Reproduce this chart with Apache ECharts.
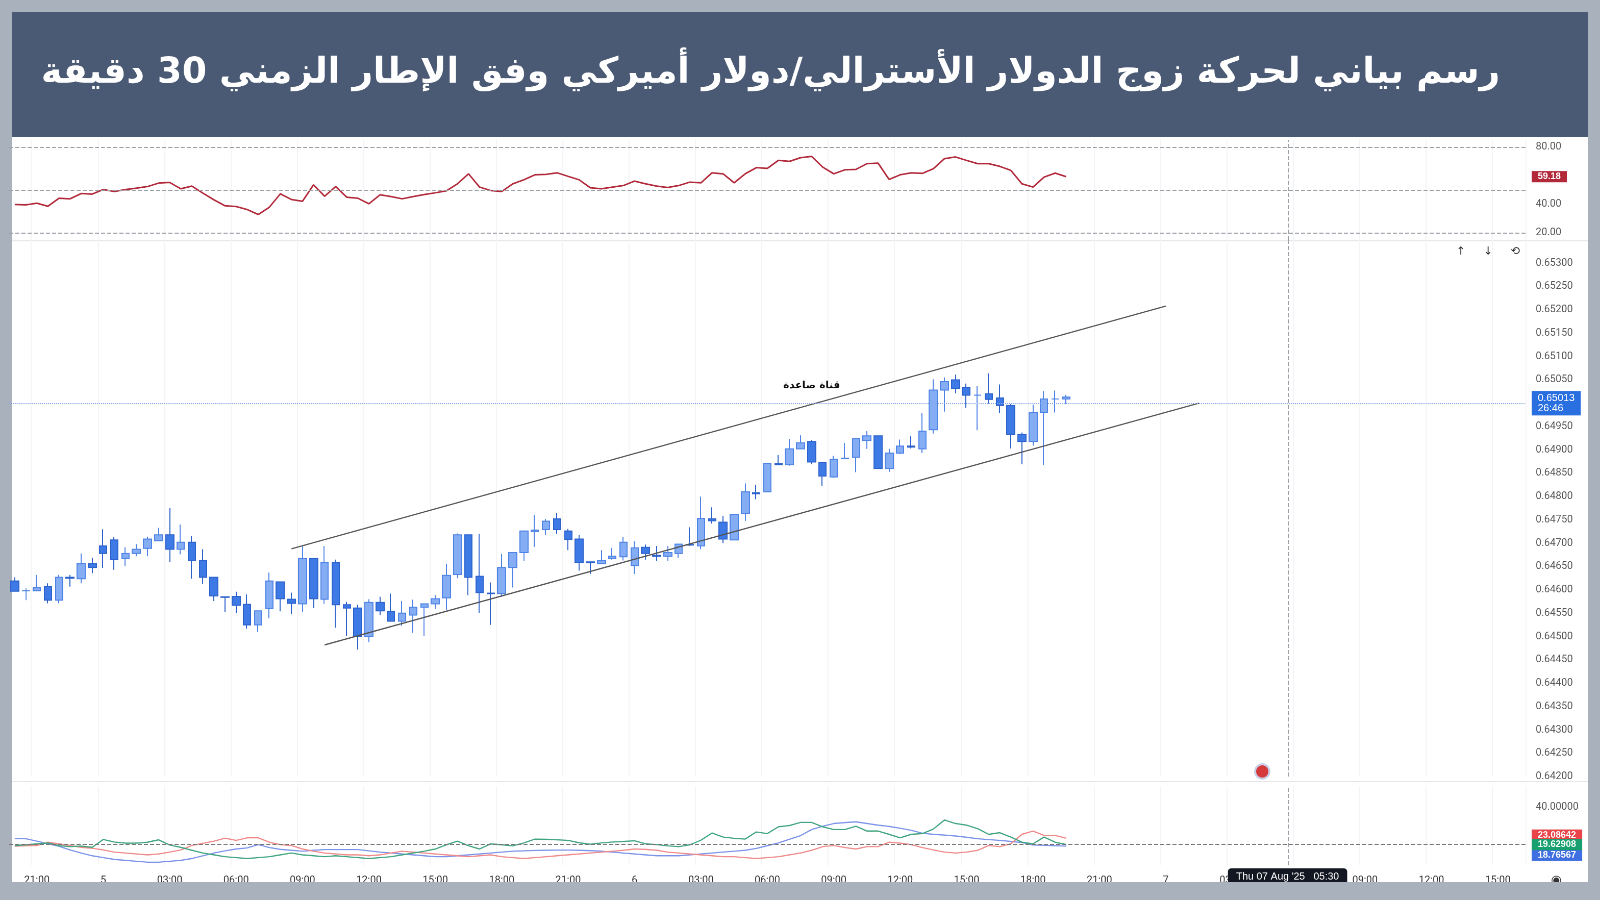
<!DOCTYPE html>
<html><head><meta charset="utf-8">
<script src="https://cdn.jsdelivr.net/npm/echarts@6/dist/echarts.min.js"></script>
<style>html,body{margin:0;padding:0;background:#a9b1bc;overflow:hidden}#c{width:1568px;height:882px;transform:scale(1.020408);transform-origin:0 0}</style>
</head><body><div id="c"></div>
<script>
const titleText = 'رسم بياني لحركة زوج الدولار الأسترالي/دولار أميركي وفق الإطار الزمني 30 دقيقة';
const channelLabel = 'قناة صاعدة';
const opens  = [.64619,.64598,.64598,.64607,.64578,.64627,.64624,.64656,.64694,.64707,.64667,.64678,.64689,.64705,.64718,.64687,.64702,.64663,.64627,.64585,.64586,.64569,.64525,.6456,.64617,.6458,.6457,.64667,.6458,.64658,.64568,.64561,.645,.64573,.64554,.64533,.64546,.64563,.6457,.64583,.64633,.64718,.64629,.64593,.64592,.64648,.6468,.64725,.64729,.64752,.64726,.64709,.6466,.64656,.64667,.64671,.64652,.64691,.64674,.64672,.64678,.64697,.64694,.64752,.64745,.64707,.64764,.64808,.6481,.6487,.64868,.64902,.64918,.64873,.64842,.64881,.64884,.6492,.6493,.6486,.64893,.64908,.64902,.64943,.65028,.6505,.65033,.65017,.6502,.65011,.64995,.64933,.64918,.6498,.65009,.65009];
const closes = [.64597,.64598,.64605,.64578,.64627,.64625,.64656,.64648,.64678,.64665,.64678,.64687,.64709,.64718,.64687,.64702,.64663,.64627,.64587,.64584,.64567,.64525,.64555,.64619,.64581,.64571,.64667,.64581,.64659,.64568,.64561,.645,.64573,.64555,.64533,.6455,.64563,.6457,.64581,.64631,.64718,.64627,.64594,.64592,.64648,.6468,.64726,.64728,.64747,.64729,.64708,.64659,.64658,.64663,.64672,.64702,.6469,.64678,.64672,.6468,.64698,.64696,.64753,.64748,.64709,.64762,.6481,.64806,.64871,.64868,.64902,.64915,.64874,.64844,.6488,.64882,.64924,.6493,.6486,.64893,.64908,.64906,.6494,.65028,.65046,.65032,.65017,.65017,.65008,.64995,.64933,.64918,.6498,.65009,.65009,.65013];
const lows   = [.64596,.64578,.64598,.64571,.64571,.64607,.64614,.64636,.64647,.64643,.64651,.64672,.64672,.64704,.6466,.64676,.64624,.64613,.64576,.64552,.64551,.64517,.6451,.64539,.64554,.64548,.64552,.64561,.6457,.64519,.64501,.64472,.64488,.64546,.64533,.64523,.64508,.64501,.64559,.64556,.64625,.64589,.64551,.64525,.64585,.64605,.64662,.64692,.64718,.6472,.64685,.64641,.64634,.64656,.64665,.64663,.64634,.64665,.64662,.64662,.64669,.64694,.64687,.64742,.647,.64707,.64748,.64794,.6481,.64867,.64866,.64902,.64869,.64823,.6484,.6488,.64852,.64902,.64859,.64853,.64891,.64903,.64893,.64935,.64982,.65021,.6499,.64942,.64999,.64979,.64903,.64869,.64909,.64867,.6498,.64998];
const highs  = [.64627,.64603,.64632,.64614,.64632,.64632,.64678,.64669,.6473,.64713,.64691,.64698,.64714,.64733,.64775,.6474,.64716,.64687,.64627,.64586,.64596,.6459,.64556,.64637,.64618,.64594,.64694,.64668,.64694,.64665,.64574,.64568,.6458,.64585,.64592,.64576,.64579,.64571,.64589,.64656,.64721,.64719,.6472,.64616,.64677,.64681,.64727,.6476,.64752,.64765,.64731,.64718,.64661,.64685,.6469,.64713,.64704,.64697,.64694,.64694,.64699,.64734,.648,.64777,.64758,.64763,.64828,.64825,.64872,.64889,.64923,.64931,.64921,.64874,.64887,.64915,.64925,.6494,.64931,.64902,.64922,.6493,.64979,.65051,.65055,.65061,.65042,.65037,.65064,.6504,.64998,.64937,.64997,.65026,.65027,.65018];
const rsiValues = [39.7,39.5,40.6,38.5,44.1,43.7,47.4,47,50.2,48.8,50.2,51.2,52.3,54.7,55.2,50.7,52.6,47.7,43,38.8,38.3,36.2,32.7,37.8,47.2,43.2,42,53.5,45.5,52.3,44.8,44.1,40.2,46.5,45.3,43.7,45.3,46.7,47.9,49.3,54.2,61.2,51.9,49.5,48.8,54.2,57,60.5,
 60.8,61.9,59.4,57,51.4,50.7,51.9,53,56.1,54.2,52.6,51.6,53,55.4,54.9,61.9,61.2,54.9,61.2,65.5,65,70.6,69.9,72.5,73.4,65.9,61.2,64,64.3,68.3,68.7,57.3,60.5,61.9,61.5,64.8,71.8,73,70.6,68.3,68.3,66.4,63.6,54.2,51.9,58.9,61.7,59.18];
const plusDI = [19,19.5,20,20.5,19,18.5,18.8,18.1,22.4,21,20.4,20.4,20.9,22.2,19.4,18.1,16.5,15,14,13,12.5,12,12.5,13,14,15,14,13.5,13,13.5,13,12.5,12,12.5,13,14,15,16,17.2,19.5,21.5,19,17.2,20,19.5,18.9,20.5,22.6,22.5,22.2,21.9,20.6,19.8,20.5,21,21.3,21.7,20,19.6,18.9,18.5,19.5,22,25.9,23.7,23,22.6,26.5,25.6,29.3,30,31.7,31.7,29.3,27.8,27.8,29.6,27,27,25.2,23.3,25.2,25.6,28.1,33,31.1,30.2,28.3,25.2,26.1,23.7,20.9,20,23.7,20.9,19.62908];
const minusDI = [18.7,19,19.1,20.9,20,19.1,18.1,17.6,16.7,15.5,15,14.5,14,14.5,15.5,16.7,19.1,20.3,21.5,23.1,21.9,23.3,23.3,20.9,19.6,19.1,17.2,16,15,14.5,14,14,13.5,14,15,16,15.5,15,14.5,14,13.5,13,13.5,14,13,12.5,12,12.5,13,13.5,14,14.5,15,15.5,16,16.5,17.2,17,16.5,15.5,15,14.5,14,13.5,13,13,12.5,12,12.5,13,14,15,16.5,18.5,19.1,18,17.2,18.5,18.5,20.9,20.4,19.6,18,16.7,15.5,15,15.5,16.5,19.1,18.5,20,25.2,27,24.6,24.6,23.08642];
const adxValues = [22.8,22.8,21.5,20,18.7,16.7,15,13.5,12.5,11.5,11,10.5,10,10,10.5,11,12,13.5,15,16.2,17.2,17.8,19.6,18,17,16.5,16,16.5,16.9,16.9,16.9,16.9,16.2,15.5,15,14.5,14,13.5,13,13,13.5,14,14.5,15,15.5,16,16.2,16.4,16.5,16.6,16.6,16.5,16.3,16,15.5,15,14.5,14,13.5,13.5,13.5,14,14.5,15,15.5,16,16.5,17.5,19,20.5,22.5,24.5,27.8,29.6,31.1,31.6,32,31.1,30.2,29.5,28.5,27.4,25.8,25.2,24.8,24.3,23.6,22.8,22.3,21.9,21.3,20.7,19.4,19.2,19,18.76567];
const channelUpper = [[25,0.64688],[104,0.65208]];
const channelLower = [[28,0.64482],[107,0.65000]];
const currentPrice = 0.65013, crossPrice = 0.64372, crossIndex = 115;

const categories = [];
const t0 = Date.UTC(2025,7,4,20,0);
for (let i=0;i<137;i++){ const d=new Date(t0+i*1800000); categories.push({d:d.getUTCDate(),h:d.getUTCHours(),m:d.getUTCMinutes()}); }
const catNames = categories.map(c=>c.d+'|'+String(c.h).padStart(2,'0')+':'+String(c.m).padStart(2,'0'));
function fmtCat(v){ const [d,t]=v.split('|'); return t==='00:00'?d:t; }

const candleData = opens.map((o,i)=>[o,closes[i],lows[i],highs[i]]);
const idx = a=>a.map((v,i)=>[i,v]);

const chart = echarts.init(document.getElementById('c'),null,{devicePixelRatio:2});
const L=9, R=73;
const hidden = {color:'rgba(0,0,0,0)',width:0};
const xBase = {type:'category',data:catNames,boundaryGap:true,axisLine:{show:false},axisTick:{show:false},axisLabel:{show:false},
  splitLine:{show:true,interval:i=>i%6===2,lineStyle:{color:'#f4f4f6'}}};
const yLab = {color:'#555',fontSize:10,fontFamily:'Roboto',margin:10};
function tag(val,txt,bg,extra){ return Object.assign({yAxis:val,lineStyle:hidden,label:{show:true,position:'end',formatter:txt,backgroundColor:bg,color:'#fff',fontSize:9,fontWeight:'bold',padding:[1,6],distance:6}},extra||{}); }
chart.setOption({
  animation:false,
  backgroundColor:'#a9b1bc',
  graphic:[
    {type:'rect',z:-10,shape:{x:12,y:12,width:1544,height:122},style:{fill:'#4b5a74'}},
    {type:'rect',z:-10,shape:{x:12,y:134,width:1544,height:736},style:{fill:'#ffffff'}},
    {type:'text',x:1470,y:72,style:{text:titleText,fill:'#ffffff',align:'right',verticalAlign:'middle',font:'bold 35px "DejaVu Sans", "Noto Sans", sans-serif'}},
    {type:'line',shape:{x1:12,y1:236,x2:1556,y2:236},style:{stroke:'#e6e6e6'}},
    {type:'line',shape:{x1:12,y1:766,x2:1556,y2:766},style:{stroke:'#e6e6e6'}},
    {type:'text',x:1427,y:241,style:{text:'↑     ↓     ⟲',fill:'#333',font:'11px "DejaVu Sans"'}},
    {type:'circle',shape:{cx:1237,cy:756,r:7},style:{fill:'#d43a3a',stroke:'#c8d0e8',lineWidth:2}},
    {type:'text',x:1520,y:857,style:{text:'◉',fill:'#333',font:'12px "DejaVu Sans"'}}
  ],
  grid:[
    {left:L,right:R,top:137,height:98},
    {left:L,right:R,top:235,height:526},
    {left:L,right:R,top:770,height:78}
  ],
  xAxis:[
    Object.assign({gridIndex:0},xBase),
    Object.assign({gridIndex:1},xBase),
    Object.assign({},xBase,{gridIndex:2,axisLabel:{show:true,interval:i=>i%6===2,formatter:fmtCat,color:'#333',fontSize:10,fontFamily:'Roboto',margin:10},
      axisPointer:{show:true,value:crossIndex,status:'show',type:'line',lineStyle:{type:'dashed',color:'#9aa0a6'},
        label:{show:true,formatter:()=>"Thu 07 Aug '25   05:30",backgroundColor:'#131722',color:'#fff',fontSize:10,padding:[3,8]}}})
  ],
  yAxis:[
    {gridIndex:0,position:'right',min:15,max:85,splitLine:{show:false},axisLine:{show:false},axisTick:{show:false},
      axisLabel:Object.assign({customValues:[20,40,80],formatter:v=>v.toFixed(2)},yLab)},
    {gridIndex:1,position:'right',min:0.642,max:0.6535,interval:0.0005,scale:true,splitLine:{show:false},axisLine:{show:false},axisTick:{show:false},
      axisLabel:Object.assign({showMaxLabel:false,formatter:v=>v.toFixed(5)},yLab)},
    {gridIndex:2,position:'right',min:8.3,max:51.7,splitLine:{show:false},axisLine:{show:false},axisTick:{show:false},
      axisLabel:Object.assign({customValues:[40],formatter:v=>v.toFixed(5)},yLab)}
  ],
  series:[
    {type:'line',xAxisIndex:0,yAxisIndex:0,data:idx(rsiValues),symbol:'none',lineStyle:{color:'#b2293a',width:1.5},
      markLine:{silent:true,symbol:'none',data:[
        {yAxis:80,lineStyle:{type:'dashed',color:'#9aa0a6'},label:{show:false}},
        {yAxis:50,lineStyle:{type:'dashed',color:'#9aa0a6'},label:{show:false}},
        {yAxis:20,lineStyle:{type:'dashed',color:'#9aa0a6'},label:{show:false}},
        tag(59.18,'59.18','#b2293a'),
        {xAxis:crossIndex,lineStyle:{type:'dashed',color:'#9aa0a6'},label:{show:false}}
      ]}},
    {type:'candlestick',xAxisIndex:1,yAxisIndex:1,data:candleData,barWidth:8,
      itemStyle:{color:'#85adf3',borderColor:'#4f84e6',color0:'#3d7ae6',borderColor0:'#2d62cc',borderWidth:1},
      markLine:{silent:true,symbol:'none',data:[
        [{coord:channelUpper[0]},{coord:channelUpper[1]}],
        [{coord:channelLower[0]},{coord:channelLower[1]}]
      ].map(p=>{p[0].lineStyle={color:'#555',width:1.2,type:'solid'};p[0].label={show:false};return p;}).concat([
        {yAxis:currentPrice,lineStyle:{type:'dotted',color:'#7fa6e8'},label:{show:true,position:'end',formatter:'0.65013\n26:46',backgroundColor:'#2a6fe0',color:'#fff',fontSize:10,lineHeight:10,padding:[2,6],distance:6}},
        {yAxis:crossPrice,lineStyle:{type:'dashed',color:'#9aa0a6'},label:{show:true,position:'end',formatter:'0.64372',backgroundColor:'#131722',color:'#fff',fontSize:10,fontWeight:'bold',padding:[2,6],distance:6}},
        {xAxis:crossIndex,lineStyle:{type:'dashed',color:'#9aa0a6'},label:{show:false}}
      ])},
      markPoint:{silent:true,data:[{coord:[72.2,0.65038],symbol:'circle',symbolSize:0,label:{show:true,formatter:channelLabel,color:'#111',fontSize:10,fontWeight:'bold',fontFamily:'DejaVu Sans'}}]}},
    {type:'line',xAxisIndex:2,yAxisIndex:2,data:idx(adxValues),symbol:'none',lineStyle:{color:'#7b93ea',width:1.2},
      markLine:{silent:true,symbol:'none',data:[
        {yAxis:20,lineStyle:{type:'dashed',color:'#777'},label:{show:false}},
        tag(18.76567,'18.76567','#3f6fe0',{label:{show:true,position:'end',formatter:'18.76567',backgroundColor:'#3f6fe0',color:'#fff',fontSize:9,fontWeight:'bold',padding:[1,6],distance:6,offset:[0,9]}})
      ]}},
    {type:'line',xAxisIndex:2,yAxisIndex:2,data:idx(minusDI),symbol:'none',lineStyle:{color:'#f08a8a',width:1.2},
      markLine:{silent:true,symbol:'none',data:[
        tag(23.08642,'23.08642','#e8444a',{label:{show:true,position:'end',formatter:'23.08642',backgroundColor:'#e8444a',color:'#fff',fontSize:9,fontWeight:'bold',padding:[1,6],distance:6,offset:[0,-3]}})
      ]}},
    {type:'line',xAxisIndex:2,yAxisIndex:2,data:idx(plusDI),symbol:'none',lineStyle:{color:'#3fa57e',width:1.2},
      markLine:{silent:true,symbol:'none',data:[ tag(19.62908,'19.62908','#18a070') ]}}
  ]
});
</script></body></html>
